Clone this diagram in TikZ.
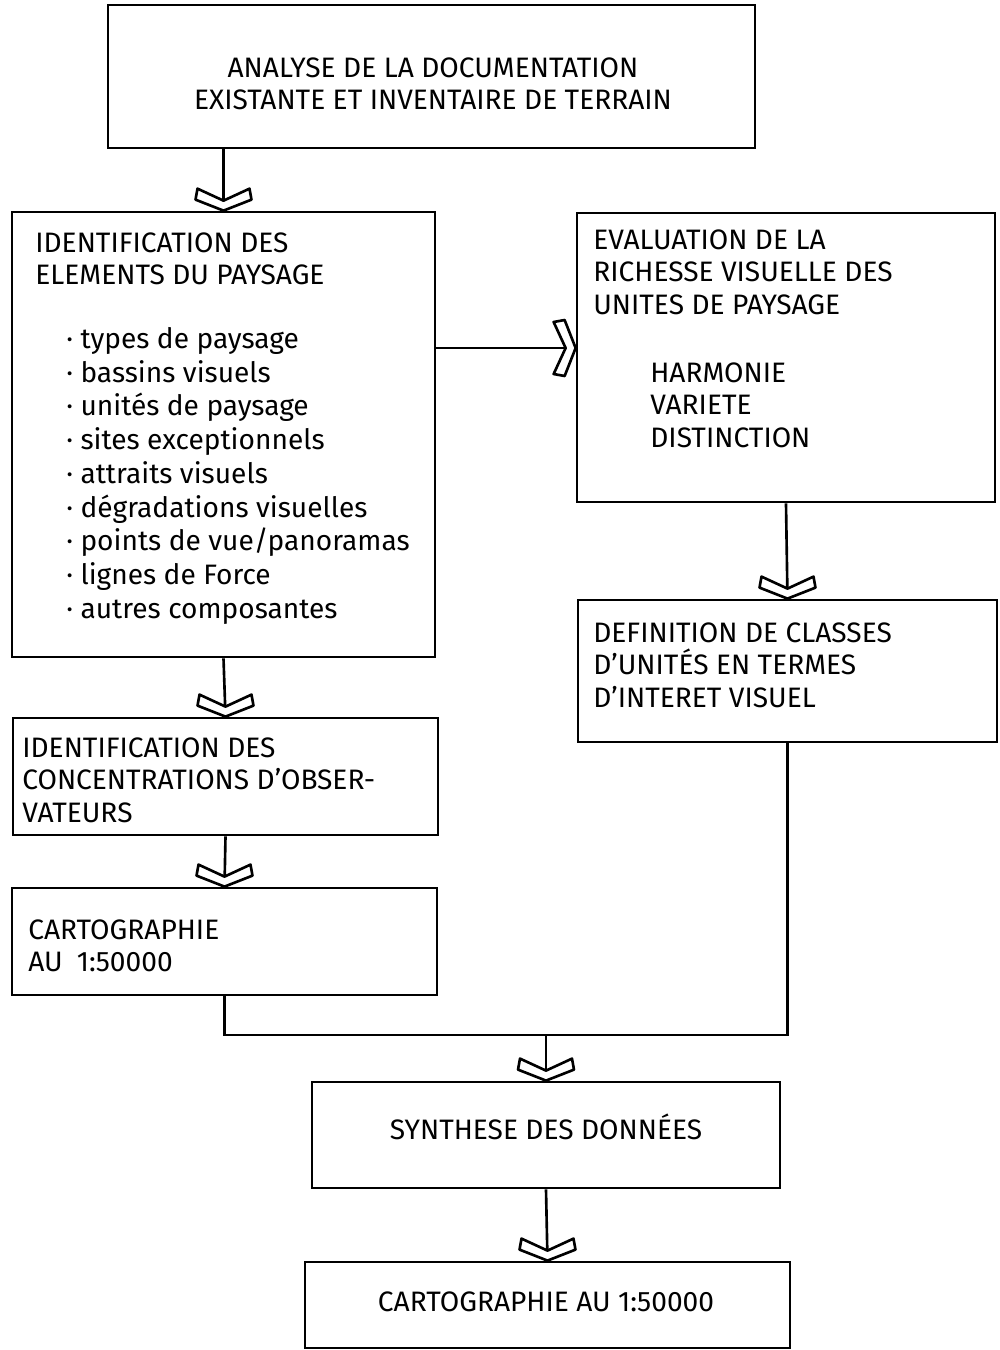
\documentclass[tikz,border=0pt]{standalone}
\usepackage{fontspec}
\setmainfont{Fira Sans}
\usetikzlibrary{positioning,calc}

\begin{document}
\begin{tikzpicture}[
    x=0.02cm,y=-0.02cm,
    stage/.style={draw,line width=1.6pt,rectangle,inner sep=0pt},
    txt/.style={anchor=north west,inner sep=0pt,align=left,font=\fontsize{16}{18.5}\selectfont},
    listtxt/.style={anchor=north west,inner sep=0pt,align=left,font=\fontsize{16}{19.2}\selectfont},
    link/.style={line width=1.5pt},
    chev/.pic={\draw[line width=1.5pt,fill=white,line join=round]
      (0,0) -- (0.56cm,0.22cm) -- (0.52cm,0.44cm) -- (0,0.2cm) -- (-0.52cm,0.44cm) -- (-0.56cm,0.22cm) -- cycle;}
  ]
    \useasboundingbox (0,0) rectangle (1000,1350);

    % boxes
    \node[stage,minimum width=12.94cm,minimum height=2.86cm] (analyse) at (431.5,76.5) {};
    \node[stage,minimum width=8.46cm,minimum height=8.9cm] (elements) at (223.5,434.5) {};
    \node[stage,minimum width=8.36cm,minimum height=5.78cm] (evaluation) at (786,357.5) {};
    \node[stage,minimum width=8.38cm,minimum height=2.84cm] (definition) at (787.5,671) {};
    \node[stage,minimum width=8.5cm,minimum height=2.34cm] (concentr) at (225.5,776.5) {};
    \node[stage,minimum width=8.5cm,minimum height=2.14cm] (carto) at (224.5,941.5) {};
    \node[stage,minimum width=9.36cm,minimum height=2.12cm] (synthese) at (546,1135) {};
    \node[stage,minimum width=9.7cm,minimum height=1.72cm] (final) at (547.5,1305) {};

    % texts
    \node[txt,align=center,anchor=center] (analyseT) at (433,84) {ANALYSE DE LA DOCUMENTATION\\EXISTANTE ET INVENTAIRE DE TERRAIN};
    \node[txt] (elementsT) at (35,232) {IDENTIFICATION DES\\ELEMENTS DU PAYSAGE};
    \node[listtxt] (elementsL) at (66,327) {%
      · types de paysage\\
      · bassins visuels\\
      · unités de paysage\\
      · sites exceptionnels\\
      · attraits visuels\\
      · dégradations visuelles\\
      · points de vue/panoramas\\
      · lignes de Force\\
      · autres composantes};
    \node[txt] (evaluationT) at (593,229) {EVALUATION DE LA\\RICHESSE VISUELLE DES\\UNITES DE PAYSAGE};
    \node[txt] (criteresT) at (650,362) {HARMONIE\\VARIETE\\DISTINCTION};
    \node[txt] (definitionT) at (593,622) {DEFINITION DE CLASSES\\D'UNITÉS EN TERMES\\D'INTERET VISUEL};
    \node[txt] (concentrT) at (22,737) {IDENTIFICATION DES\\CONCENTRATIONS D'OBSER-\\VATEURS};
    \node[txt] (cartoT) at (28,919) {CARTOGRAPHIE\\AU\enspace 1:50000};
    \node[txt,anchor=center] (syntheseT) at (546,1127) {SYNTHESE DES DONNÉES};
    \node[txt,anchor=center] (finalT) at (546,1302) {CARTOGRAPHIE AU 1:50000};

    % connectors
    \draw[link] (analyse.south -| elements.north) -- (elements.north);
    \pic at (elements.north) {chev};
    \coordinate (evalIn) at ([yshift=0.19cm]evaluation.west);
    \draw[link] (elements.east |- evalIn) -- (evalIn);
    \pic[rotate=90] at (evalIn) {chev};
    \draw[link] (evaluation.south) -- (definition.north);
    \pic at (definition.north) {chev};
    \draw[link] (elements.south) -- (concentr.north);
    \pic at (concentr.north) {chev};
    \draw[link] (concentr.south) -- (carto.north);
    \pic at (carto.north) {chev};
    \coordinate (merge) at (546,1035);
    \draw[link] (carto.south) |- (merge -| definition.south) -- (definition.south);
    \draw[link] (merge) -- (synthese.north);
    \pic at (synthese.north) {chev};
    \draw[link] (synthese.south) -- (final.north);
    \pic at (final.north) {chev};
  \end{tikzpicture}
\end{document}
